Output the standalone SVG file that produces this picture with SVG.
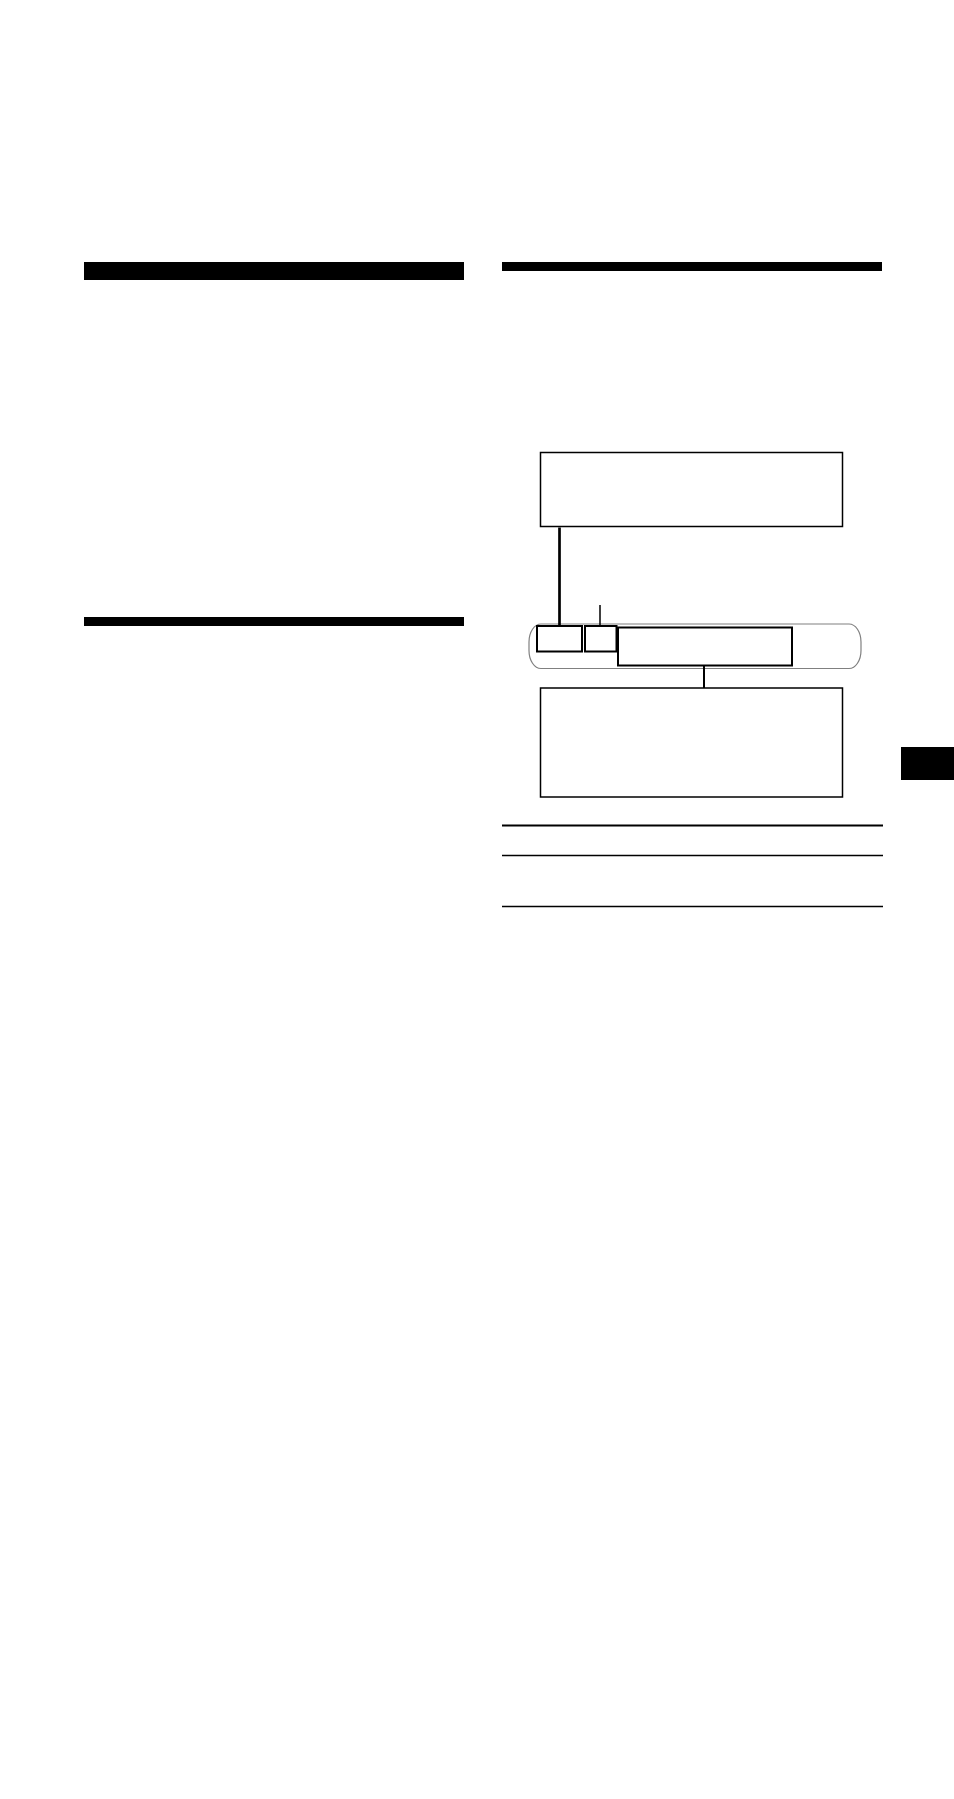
<svg xmlns="http://www.w3.org/2000/svg" width="954" height="1799" viewBox="0 0 954 1799">
<style>
.bar{fill:#000}
.box{fill:#fff;stroke:#000;stroke-width:1.5}
.seg{fill:none;stroke:#000;stroke-width:2}
.pill{fill:#fff;stroke:#808080;stroke-width:1.2}
.conn{stroke:#000;fill:none}
</style>
<rect width="954" height="1799" fill="#fff"/>
<g id="headers">
<rect class="bar" x="84" y="262" width="380" height="18"/>
<rect class="bar" x="84" y="617" width="380" height="9"/>
<rect class="bar" x="502" y="262" width="380" height="9"/>
<rect class="bar" x="901" y="747" width="53" height="33"/>
</g>
<g id="rules">
<line x1="502" y1="825.5" x2="883" y2="825.5" stroke="#000" stroke-width="2"/>
<line x1="502" y1="855.5" x2="883" y2="855.5" stroke="#000" stroke-width="1.3"/>
<line x1="502" y1="906.5" x2="883" y2="906.5" stroke="#000" stroke-width="1.3"/>
</g>
<g id="box-top"><rect class="box" x="540.5" y="452.5" width="302" height="74"/></g>
<g id="display"><rect class="pill" x="529" y="624" width="332" height="44.5" rx="12" ry="18"/></g>
<g id="seg1"><rect class="seg" x="537" y="626" width="45" height="25.5"/></g>
<g id="seg2"><rect class="seg" x="585" y="626" width="31.5" height="25.5"/></g>
<g id="seg3"><rect class="seg" x="618" y="627.5" width="174" height="38" stroke-width="2.5"/></g>
<g id="box-bottom"><rect class="box" x="540.5" y="688" width="302" height="109"/></g>
<g id="connectors">
<line class="conn" x1="559.5" y1="527.5" x2="559.5" y2="626" stroke-width="2.7"/>
<line class="conn" x1="600" y1="605" x2="600" y2="626" stroke-width="1.5"/>
<line class="conn" x1="704" y1="666" x2="704" y2="688" stroke-width="2"/>
</g>
</svg>
